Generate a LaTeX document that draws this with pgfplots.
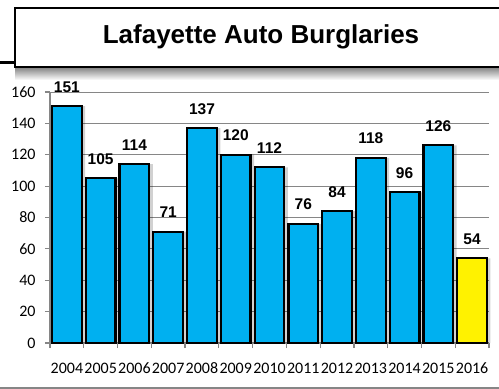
\documentclass[border=0pt]{standalone}
\usepackage{pgfplots}
\pgfplotsset{compat=1.18}
\usepackage{fontspec}
\setmainfont{Liberation Sans}
\newfontfamily\calibri{Carlito}
\definecolor{barblue}{HTML}{00B0F0}
\definecolor{axgray}{HTML}{868686}
\begin{document}
\begin{tikzpicture}
\useasboundingbox (0,0) rectangle (499bp,389bp);
\fill[white] (0,0) rectangle (499bp,389bp);
% title shadow
\shade[top color=black!50, bottom color=white] (15bp,322bp) rectangle (499bp,309bp);
% title box
\draw[black, line width=2bp, fill=white] (15bp,381bp) rectangle (505bp,322bp);
\draw[black, line width=3bp] (0,326bp) -- (15bp,326bp);
\node[font=\bfseries\fontsize{26bp}{26bp}\selectfont, anchor=base] at (261bp,345bp) {Lafayette Auto Burglaries};
% bottom line
\draw[axgray, line width=1.5bp] (0,1bp) -- (499bp,1bp);
\begin{axis}[
  scale only axis, width=439bp, height=251bp,
  at={(50bp,46bp)}, anchor=south west,
  xmin=-0.5, xmax=12.5, ymin=0, ymax=160,
  axis x line*=bottom, axis y line*=left,
  axis line style={axgray, line width=1.3bp},
  ytick={0,20,...,160}, ymajorgrids,
  grid style={axgray, line width=0.8bp},
  tick align=outside, major tick length=5bp, minor tick length=5bp,
  xtick={0,...,12},
  xticklabels={2004,2005,2006,2007,2008,2009,2010,2011,2012,2013,2014,2015,2016},
  minor xtick={-0.5,0.5,...,12.5},
  major x tick style={draw=none},
  minor x tick style={axgray, line width=1.2bp},
  major y tick style={axgray, line width=1.2bp},
  tick label style={font=\calibri\fontsize{16bp}{16bp}\selectfont, text=black},
  xticklabel style={yshift=-11bp, text height=11bp, text depth=1bp},
  yticklabel style={xshift=-6bp},
  /pgf/number format/assume math mode=true,
  ybar, bar width=0.88,
  clip=false,
]
% shadows
\addplot[fill=black, fill opacity=0.18, draw=none, bar shift=3.5bp]
  coordinates {(0,151)(1,105)(2,114)(3,71)(4,137)(5,120)(6,112)(7,76)(8,84)(9,118)(10,96)(11,126)(12,54)};
\addplot[fill=barblue, draw=black, line width=2.2bp, bar shift=0pt,
  nodes near coords,
  every node near coord/.append style={font=\bfseries\fontsize{15.5bp}{15.5bp}\selectfont, text=black, anchor=base, yshift=14bp, inner sep=0pt}]
  coordinates {(0,151)(1,105)(2,114)(3,71)(4,137)(5,120)(6,112)(7,76)(8,84)(9,118)(10,96)(11,126)};
\addplot[fill=yellow, draw=black, line width=2.2bp, bar shift=0pt,
  nodes near coords,
  every node near coord/.append style={font=\bfseries\fontsize{15.5bp}{15.5bp}\selectfont, text=black, anchor=base, yshift=14bp, inner sep=0pt}]
  coordinates {(12,54)};
\end{axis}
\end{tikzpicture}
\end{document}
